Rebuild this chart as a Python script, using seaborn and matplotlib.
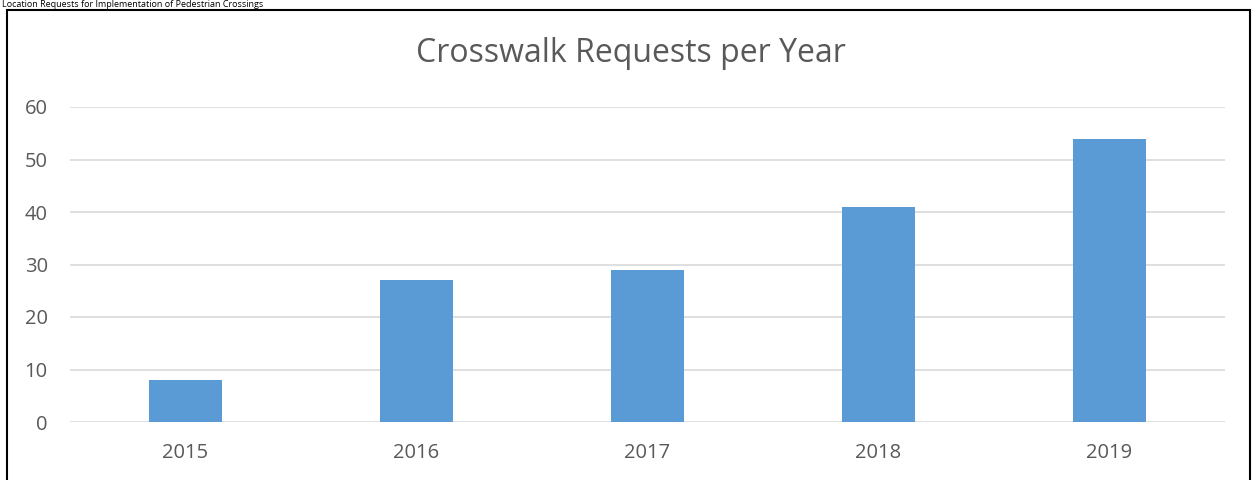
import matplotlib
matplotlib.use("Agg")
import matplotlib.pyplot as plt
import seaborn as sns
import pandas as pd
from matplotlib.patches import Rectangle

years = ["2015", "2016", "2017", "2018", "2019"]
requests = [8, 27, 29, 41, 54]
yticks = [0, 10, 20, 30, 40, 50, 60]
title = "Crosswalk Requests per Year"
caption = "Location Requests for Implementation of Pedestrian Crossings"

df = pd.DataFrame({"year": years, "requests": requests})

sns.set_theme(style="white")
plt.rcParams['font.family'] = ['Open Sans', 'DejaVu Sans']

fig = plt.figure(figsize=(12.52, 4.8), dpi=100)
ax = fig.add_axes([70/1252, 1 - 422/480, 1155/1252, 315/480])

sns.barplot(data=df, x="year", y="requests", color="#5B9BD5", width=0.32,
            saturation=1, ax=ax, zorder=3, linewidth=0)

ax.set_ylim(0, 60)
ax.set_yticks(yticks)
ax.set_xlim(-0.5, 4.5)
ax.grid(axis="y", color="#D9D9D9", linewidth=1.2, zorder=0)
ax.set_axisbelow(True)
for s in ax.spines.values():
    s.set_visible(False)
ax.set_xlabel("")
ax.set_ylabel("")
ax.tick_params(axis="both", length=0, labelsize=14.5, colors="#595959")
ax.tick_params(axis="x", pad=15)
ax.tick_params(axis="y", pad=16)

fig.text(631/1252, 1 - 54/480, title, ha="center", va="center",
         fontsize=23, color="#595959")

fig.text(2/1252, 1.0, caption, ha="left", va="top", fontsize=6.5,
         color="#000000")

fig.patches.append(Rectangle((7/1252, -0.1), (1250 - 7)/1252, 1.1 - 10/480,
                             transform=fig.transFigure, fill=False,
                             edgecolor="black", linewidth=1.5))

fig.savefig("out.png", dpi=100)
